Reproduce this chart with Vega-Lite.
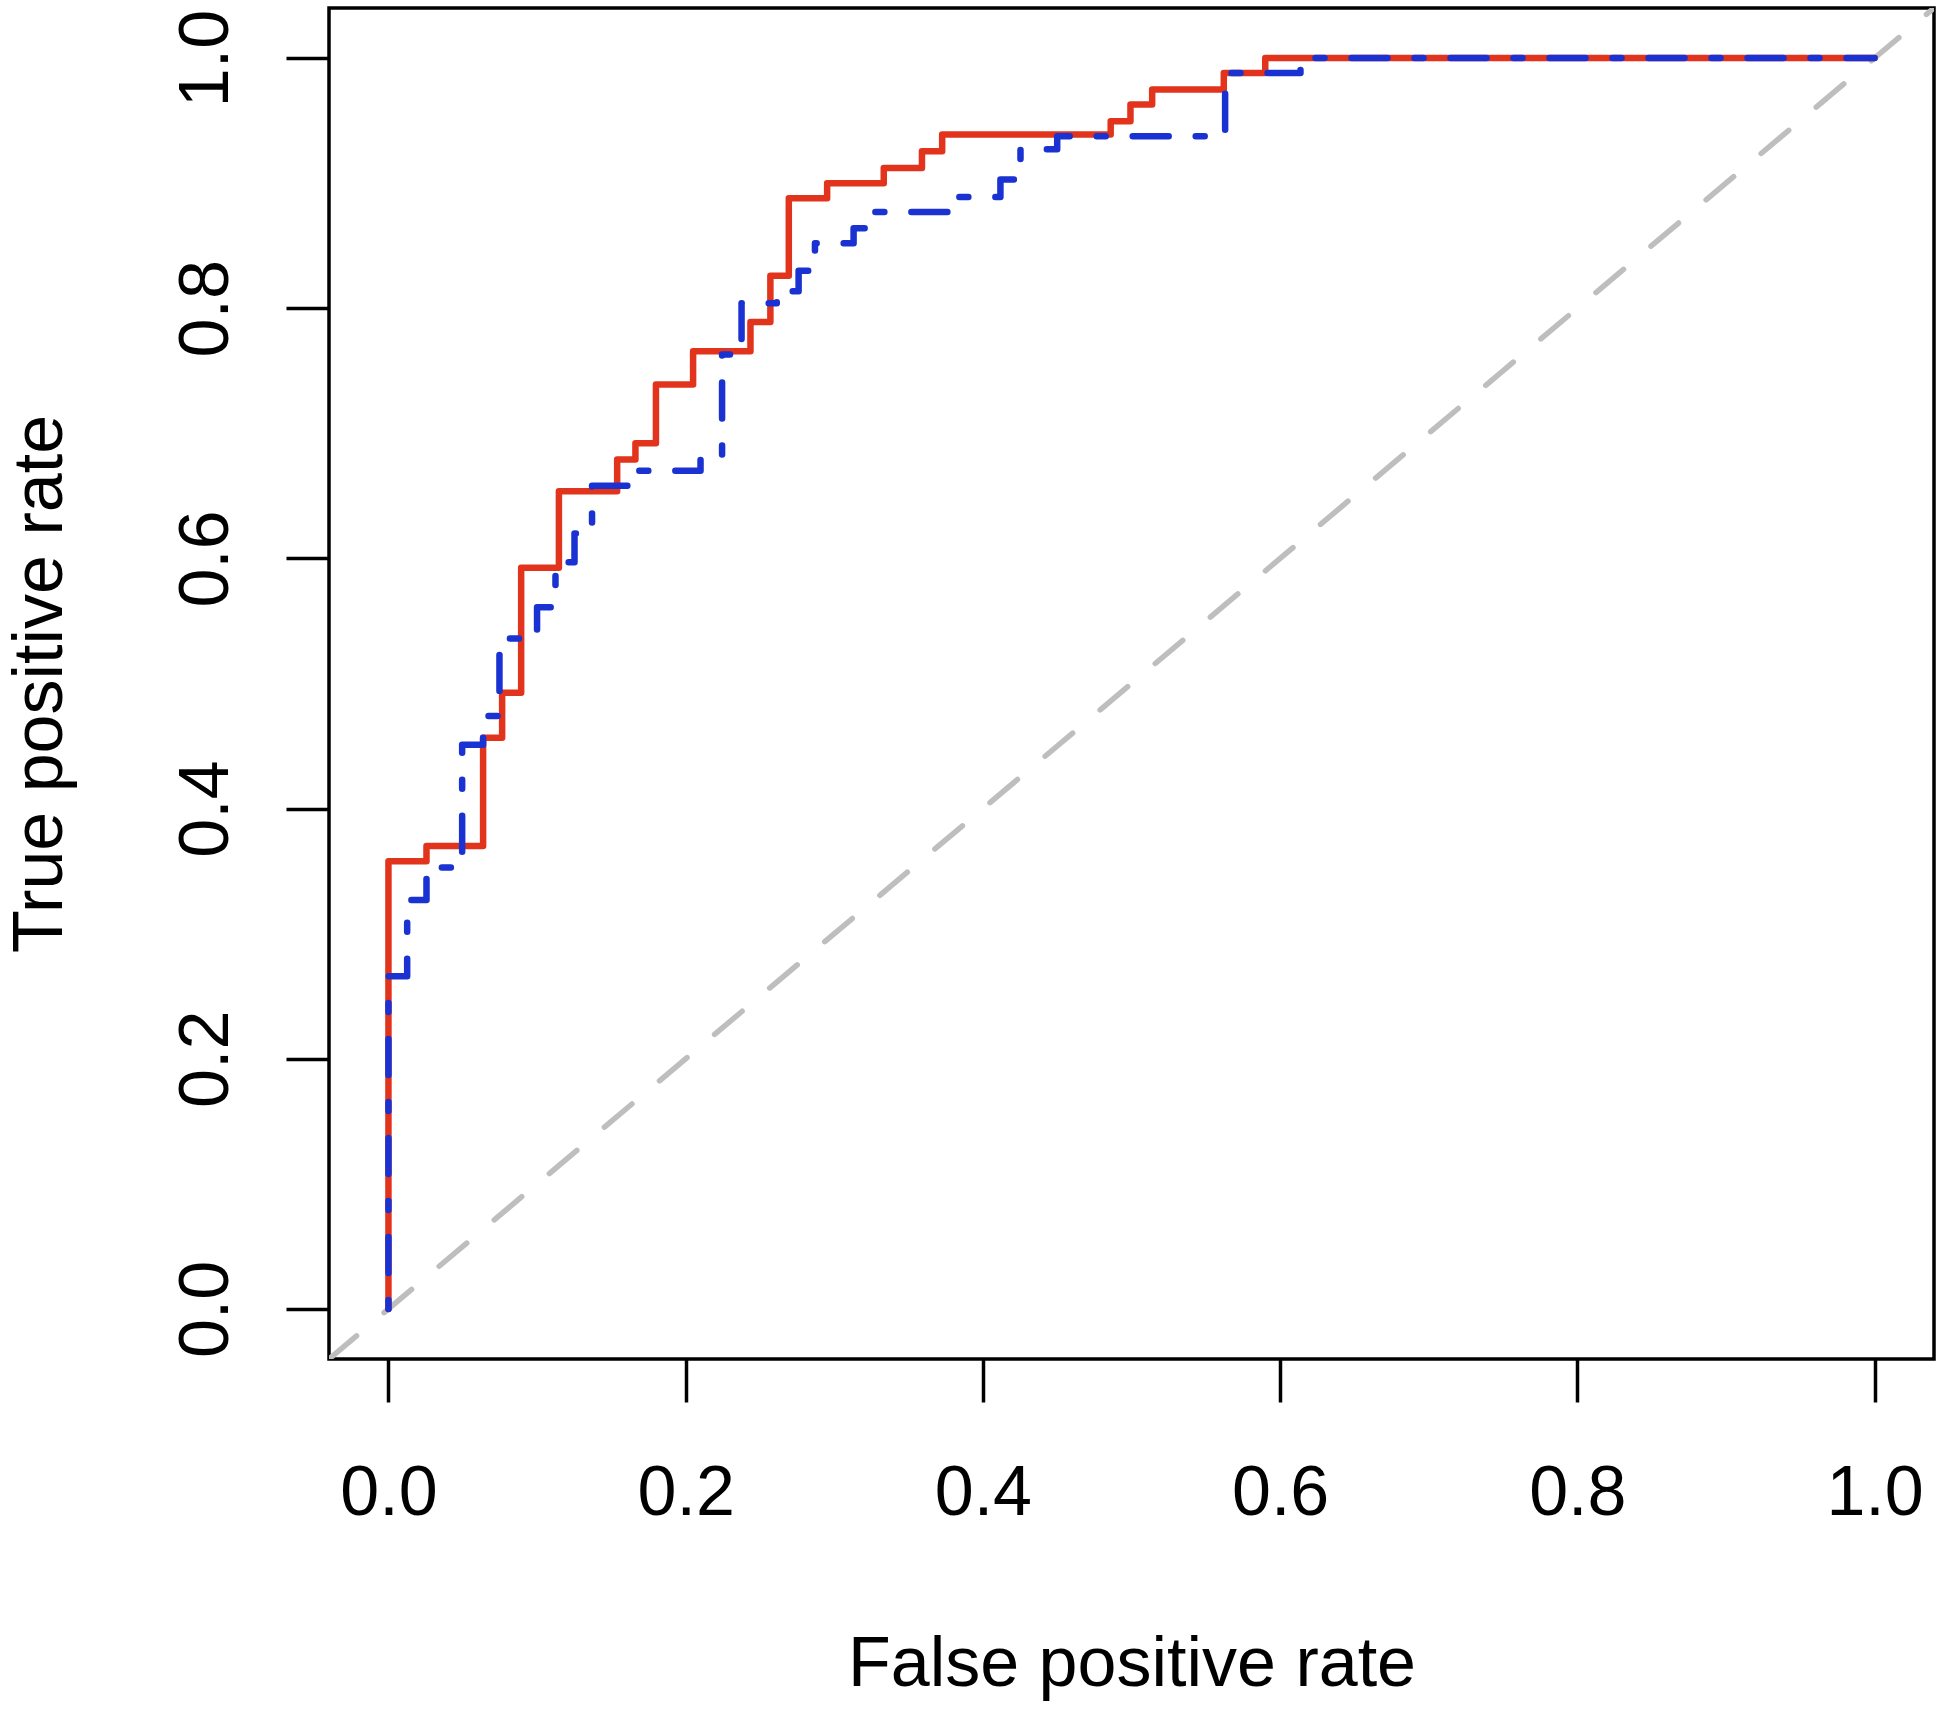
{
  "$schema": "https://vega.github.io/schema/vega-lite/v6.json",
  "width": 1605,
  "height": 1351,
  "autosize": {"type": "none"},
  "padding": {"left": 329, "top": 8, "right": 16, "bottom": 350},
  "background": "white",
  "config": {
    "view": {"stroke": "#000000", "strokeWidth": 3.5},
    "axis": {
      "domain": false,
      "grid": false,
      "ticks": true,
      "tickSize": 43,
      "tickWidth": 3.5,
      "tickColor": "#000000",
      "labelFont": "Liberation Sans",
      "labelFontSize": 70,
      "labelColor": "#000000",
      "labelFlush": false,
      "labelOverlap": false,
      "labelBound": false,
      "titleFont": "Liberation Sans",
      "titleFontSize": 70,
      "titleFontWeight": "normal",
      "titleColor": "#000000"
    }
  },
  "data": {
    "values": [
      {"curve": "ref", "idx": 0, "fpr": -0.04, "tpr": -0.04},
      {"curve": "ref", "idx": 1, "fpr": 1.04, "tpr": 1.04},
      {"curve": "red", "idx": 0, "fpr": 0, "tpr": 0},
      {"curve": "red", "idx": 1, "fpr": 0, "tpr": 0.358},
      {"curve": "red", "idx": 2, "fpr": 0.0256, "tpr": 0.358},
      {"curve": "red", "idx": 3, "fpr": 0.0256, "tpr": 0.37},
      {"curve": "red", "idx": 4, "fpr": 0.0637, "tpr": 0.37},
      {"curve": "red", "idx": 5, "fpr": 0.0637, "tpr": 0.4566},
      {"curve": "red", "idx": 6, "fpr": 0.0765, "tpr": 0.4566},
      {"curve": "red", "idx": 7, "fpr": 0.0765, "tpr": 0.4926},
      {"curve": "red", "idx": 8, "fpr": 0.0893, "tpr": 0.4926},
      {"curve": "red", "idx": 9, "fpr": 0.0893, "tpr": 0.5925},
      {"curve": "red", "idx": 10, "fpr": 0.1147, "tpr": 0.5925},
      {"curve": "red", "idx": 11, "fpr": 0.1147, "tpr": 0.6537},
      {"curve": "red", "idx": 12, "fpr": 0.1539, "tpr": 0.6537},
      {"curve": "red", "idx": 13, "fpr": 0.1539, "tpr": 0.679},
      {"curve": "red", "idx": 14, "fpr": 0.1662, "tpr": 0.679},
      {"curve": "red", "idx": 15, "fpr": 0.1662, "tpr": 0.692},
      {"curve": "red", "idx": 16, "fpr": 0.18, "tpr": 0.692},
      {"curve": "red", "idx": 17, "fpr": 0.18, "tpr": 0.739},
      {"curve": "red", "idx": 18, "fpr": 0.205, "tpr": 0.739},
      {"curve": "red", "idx": 19, "fpr": 0.205, "tpr": 0.7656},
      {"curve": "red", "idx": 20, "fpr": 0.2436, "tpr": 0.7656},
      {"curve": "red", "idx": 21, "fpr": 0.2436, "tpr": 0.789},
      {"curve": "red", "idx": 22, "fpr": 0.257, "tpr": 0.789},
      {"curve": "red", "idx": 23, "fpr": 0.257, "tpr": 0.826},
      {"curve": "red", "idx": 24, "fpr": 0.2694, "tpr": 0.826},
      {"curve": "red", "idx": 25, "fpr": 0.2694, "tpr": 0.888},
      {"curve": "red", "idx": 26, "fpr": 0.2952, "tpr": 0.888},
      {"curve": "red", "idx": 27, "fpr": 0.2952, "tpr": 0.9},
      {"curve": "red", "idx": 28, "fpr": 0.3333, "tpr": 0.9},
      {"curve": "red", "idx": 29, "fpr": 0.3333, "tpr": 0.912},
      {"curve": "red", "idx": 30, "fpr": 0.359, "tpr": 0.912},
      {"curve": "red", "idx": 31, "fpr": 0.359, "tpr": 0.9255},
      {"curve": "red", "idx": 32, "fpr": 0.3726, "tpr": 0.9255},
      {"curve": "red", "idx": 33, "fpr": 0.3726, "tpr": 0.9389},
      {"curve": "red", "idx": 34, "fpr": 0.486, "tpr": 0.9389},
      {"curve": "red", "idx": 35, "fpr": 0.486, "tpr": 0.9495},
      {"curve": "red", "idx": 36, "fpr": 0.4993, "tpr": 0.9495},
      {"curve": "red", "idx": 37, "fpr": 0.4993, "tpr": 0.9628},
      {"curve": "red", "idx": 38, "fpr": 0.5139, "tpr": 0.9628},
      {"curve": "red", "idx": 39, "fpr": 0.5139, "tpr": 0.9748},
      {"curve": "red", "idx": 40, "fpr": 0.5621, "tpr": 0.9748},
      {"curve": "red", "idx": 41, "fpr": 0.5621, "tpr": 0.988},
      {"curve": "red", "idx": 42, "fpr": 0.59, "tpr": 0.988},
      {"curve": "red", "idx": 43, "fpr": 0.59, "tpr": 1.0},
      {"curve": "red", "idx": 44, "fpr": 1.0, "tpr": 1.0},
      {"curve": "blue", "idx": 0, "fpr": 0, "tpr": 0},
      {"curve": "blue", "idx": 1, "fpr": 0, "tpr": 0.266},
      {"curve": "blue", "idx": 2, "fpr": 0.0126, "tpr": 0.266},
      {"curve": "blue", "idx": 3, "fpr": 0.0126, "tpr": 0.327},
      {"curve": "blue", "idx": 4, "fpr": 0.0256, "tpr": 0.327},
      {"curve": "blue", "idx": 5, "fpr": 0.0256, "tpr": 0.353},
      {"curve": "blue", "idx": 6, "fpr": 0.0496, "tpr": 0.353},
      {"curve": "blue", "idx": 7, "fpr": 0.0496, "tpr": 0.451},
      {"curve": "blue", "idx": 8, "fpr": 0.0637, "tpr": 0.451},
      {"curve": "blue", "idx": 9, "fpr": 0.0637, "tpr": 0.474},
      {"curve": "blue", "idx": 10, "fpr": 0.0747, "tpr": 0.474},
      {"curve": "blue", "idx": 11, "fpr": 0.0747, "tpr": 0.536},
      {"curve": "blue", "idx": 12, "fpr": 0.1, "tpr": 0.536},
      {"curve": "blue", "idx": 13, "fpr": 0.1, "tpr": 0.561},
      {"curve": "blue", "idx": 14, "fpr": 0.1124, "tpr": 0.561},
      {"curve": "blue", "idx": 15, "fpr": 0.1124, "tpr": 0.597},
      {"curve": "blue", "idx": 16, "fpr": 0.1252, "tpr": 0.597},
      {"curve": "blue", "idx": 17, "fpr": 0.1252, "tpr": 0.62},
      {"curve": "blue", "idx": 18, "fpr": 0.137, "tpr": 0.62},
      {"curve": "blue", "idx": 19, "fpr": 0.137, "tpr": 0.658},
      {"curve": "blue", "idx": 20, "fpr": 0.163, "tpr": 0.658},
      {"curve": "blue", "idx": 21, "fpr": 0.163, "tpr": 0.67},
      {"curve": "blue", "idx": 22, "fpr": 0.21, "tpr": 0.67},
      {"curve": "blue", "idx": 23, "fpr": 0.21, "tpr": 0.682},
      {"curve": "blue", "idx": 24, "fpr": 0.2245, "tpr": 0.682},
      {"curve": "blue", "idx": 25, "fpr": 0.2245, "tpr": 0.763},
      {"curve": "blue", "idx": 26, "fpr": 0.2376, "tpr": 0.763},
      {"curve": "blue", "idx": 27, "fpr": 0.2376, "tpr": 0.804},
      {"curve": "blue", "idx": 28, "fpr": 0.2613, "tpr": 0.804},
      {"curve": "blue", "idx": 29, "fpr": 0.2613, "tpr": 0.8136},
      {"curve": "blue", "idx": 30, "fpr": 0.276, "tpr": 0.8136},
      {"curve": "blue", "idx": 31, "fpr": 0.276, "tpr": 0.83},
      {"curve": "blue", "idx": 32, "fpr": 0.287, "tpr": 0.83},
      {"curve": "blue", "idx": 33, "fpr": 0.287, "tpr": 0.852},
      {"curve": "blue", "idx": 34, "fpr": 0.313, "tpr": 0.852},
      {"curve": "blue", "idx": 35, "fpr": 0.313, "tpr": 0.864},
      {"curve": "blue", "idx": 36, "fpr": 0.3253, "tpr": 0.864},
      {"curve": "blue", "idx": 37, "fpr": 0.3253, "tpr": 0.877},
      {"curve": "blue", "idx": 38, "fpr": 0.3771, "tpr": 0.877},
      {"curve": "blue", "idx": 39, "fpr": 0.3771, "tpr": 0.889},
      {"curve": "blue", "idx": 40, "fpr": 0.4118, "tpr": 0.889},
      {"curve": "blue", "idx": 41, "fpr": 0.4118, "tpr": 0.903},
      {"curve": "blue", "idx": 42, "fpr": 0.4253, "tpr": 0.903},
      {"curve": "blue", "idx": 43, "fpr": 0.4253, "tpr": 0.927},
      {"curve": "blue", "idx": 44, "fpr": 0.45, "tpr": 0.927},
      {"curve": "blue", "idx": 45, "fpr": 0.45, "tpr": 0.9375},
      {"curve": "blue", "idx": 46, "fpr": 0.563, "tpr": 0.9375},
      {"curve": "blue", "idx": 47, "fpr": 0.563, "tpr": 0.988},
      {"curve": "blue", "idx": 48, "fpr": 0.6137, "tpr": 0.988},
      {"curve": "blue", "idx": 49, "fpr": 0.6137, "tpr": 1.0},
      {"curve": "blue", "idx": 50, "fpr": 1.0, "tpr": 1.0}
    ]
  },
  "encoding": {
    "x": {
      "field": "fpr",
      "type": "quantitative",
      "scale": {"domain": [-0.04, 1.04], "nice": false, "zero": false},
      "axis": {
        "title": "False positive rate",
        "values": [0, 0.2, 0.4, 0.6, 0.8, 1.0],
        "format": ".1f",
        "labelPadding": 112,
        "labelBaseline": "alphabetic",
        "labelAlign": "center",
        "titleBaseline": "alphabetic",
        "titleY": 326
      }
    },
    "y": {
      "field": "tpr",
      "type": "quantitative",
      "scale": {"domain": [-0.04, 1.04], "nice": false, "zero": false},
      "axis": {
        "title": "True positive rate",
        "values": [0, 0.2, 0.4, 0.6, 0.8, 1.0],
        "format": ".1f",
        "labelAngle": 270,
        "labelAlign": "center",
        "labelBaseline": "alphabetic",
        "labelPadding": 59,
        "titleAngle": 270,
        "titleBaseline": "alphabetic",
        "titleX": -268
      }
    },
    "order": {"field": "idx", "type": "quantitative"}
  },
  "layer": [
    {
      "transform": [{"filter": "datum.curve === 'ref'"}],
      "mark": {"type": "line", "color": "#bebebe", "strokeWidth": 5.5, "strokeDash": [36, 36], "strokeCap": "round", "clip": true}
    },
    {
      "transform": [{"filter": "datum.curve === 'red'"}],
      "mark": {"type": "line", "color": "#e2341d", "strokeWidth": 6.5, "strokeJoin": "round", "strokeCap": "round"}
    },
    {
      "transform": [{"filter": "datum.curve === 'blue'"}],
      "mark": {"type": "line", "color": "#1a32d2", "strokeWidth": 6.5, "strokeDash": [9, 27, 36, 27], "strokeJoin": "round", "strokeCap": "round"}
    }
  ]
}
